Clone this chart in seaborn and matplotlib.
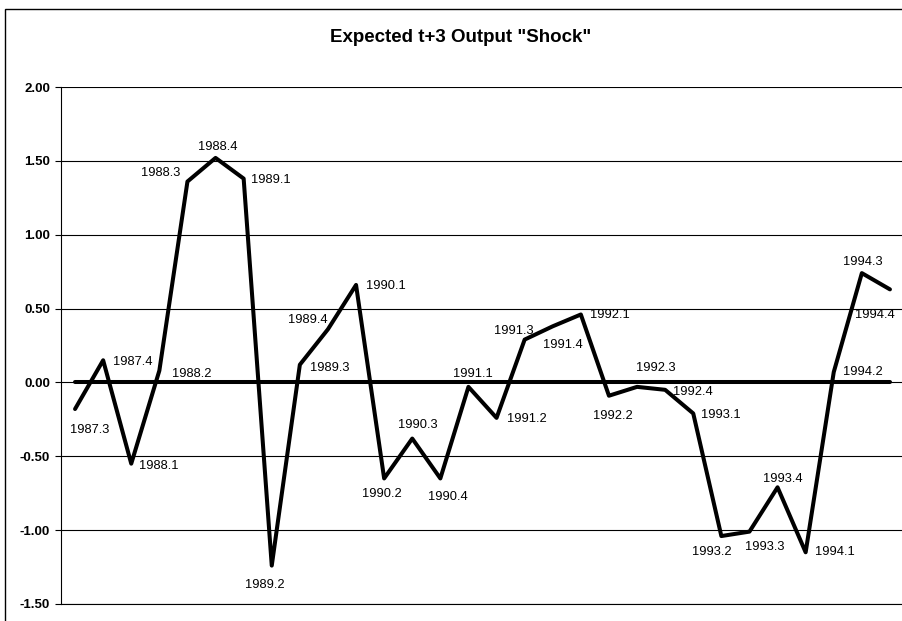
import matplotlib
matplotlib.use('Agg')
import matplotlib.pyplot as plt
import pandas as pd
import seaborn as sns
from matplotlib.patches import Rectangle

# Quarterly labels and the expected t+3 output shock
quarters = ['1987.3', '1987.4',
            '1988.1', '1988.2', '1988.3', '1988.4',
            '1989.1', '1989.2', '1989.3', '1989.4',
            '1990.1', '1990.2', '1990.3', '1990.4',
            '1991.1', '1991.2', '1991.3', '1991.4',
            '1992.1', '1992.2', '1992.3', '1992.4',
            '1993.1', '1993.2', '1993.3', '1993.4',
            '1994.1', '1994.2', '1994.3', '1994.4']
shock = [-0.18, 0.15,
         -0.55, 0.08, 1.36, 1.52,
         1.38, -1.24, 0.12, 0.36,
         0.66, -0.65, -0.38, -0.65,
         -0.03, -0.24, 0.29, 0.38,
         0.46, -0.09, -0.03, -0.05,
         -0.21, -1.04, -1.01, -0.71,
         -1.15, 0.07, 0.74, 0.63]
baseline = [0.0] * len(quarters)

y_ticks = [-1.5, -1.0, -0.5, 0.0, 0.5, 1.0, 1.5, 2.0]

# where each data label sits relative to its point (pixels, y up)
label_offsets = [(15, -21), (30, -2),
                 (28, -2), (32, -3), (-27, 9), (2, 11),
                 (27, -1), (-7, -19), (30, -3), (-20, 9),
                 (30, -1), (-2, -16), (6, 14), (8, -19),
                 (4, 13), (30, -1), (-11, 9), (10, -19),
                 (29, -1), (4, -20), (19, 19), (28, -2),
                 (28, -2), (-10, -16), (15, -15), (5, 8),
                 (29, 0), (29, 0), (1, 11), (-15, -26)]

df = pd.DataFrame({'pos': range(len(quarters)), 'shock': shock, 'zero': baseline})

sns.set_style('white')
plt.rcParams['font.family'] = ['Liberation Sans', 'DejaVu Sans']
plt.rcParams['text.color'] = 'black'
plt.rcParams['ytick.color'] = 'black'
plt.rcParams['xtick.color'] = 'black'

fig = plt.figure(figsize=(9.02, 6.21), dpi=100)
ax = fig.add_axes([61 / 902, 17 / 621, 843 / 902, 517 / 621])

# outer chart border
fig.add_artist(Rectangle((4.5 / 902, -0.1), 1.2, 0.1 + (621 - 8.5) / 621,
                         transform=fig.transFigure, fill=False,
                         edgecolor='black', linewidth=1.0))

sns.lineplot(data=df, x='pos', y='zero', ax=ax, color='black', linewidth=2.9)
sns.lineplot(data=df, x='pos', y='shock', ax=ax, color='black', linewidth=2.9)

for i, (q, v) in enumerate(zip(quarters, shock)):
    dx, dy = label_offsets[i]
    ax.annotate(q, (i, v), xytext=(dx, dy), textcoords='offset pixels',
                ha='center', va='center', fontsize=9.3, color='black')

ax.set_xlim(-0.5, len(quarters) - 0.5)
ax.set_ylim(-1.5, 2.0)
ax.set_yticks(y_ticks)
ax.set_yticklabels([f'{t:.2f}' for t in y_ticks], fontsize=9.5, fontweight='bold')
ax.set_xticks([])
ax.yaxis.grid(True, color='black', linewidth=0.8)
ax.set_axisbelow(True)
ax.tick_params(axis='y', which='major', left=True, length=4, width=0.8, pad=4)
ax.set_xlabel('')
ax.set_ylabel('')

for side in ['top', 'right']:
    ax.spines[side].set_visible(False)
for side in ['left', 'bottom']:
    ax.spines[side].set_color('black')
    ax.spines[side].set_linewidth(0.8)

fig.text(461 / 902, 1 - 38 / 621, 'Expected t+3 Output "Shock"', ha='center', va='center',
         fontsize=13.5, fontweight='bold', color='black')

fig.savefig('out.png', dpi=100)
